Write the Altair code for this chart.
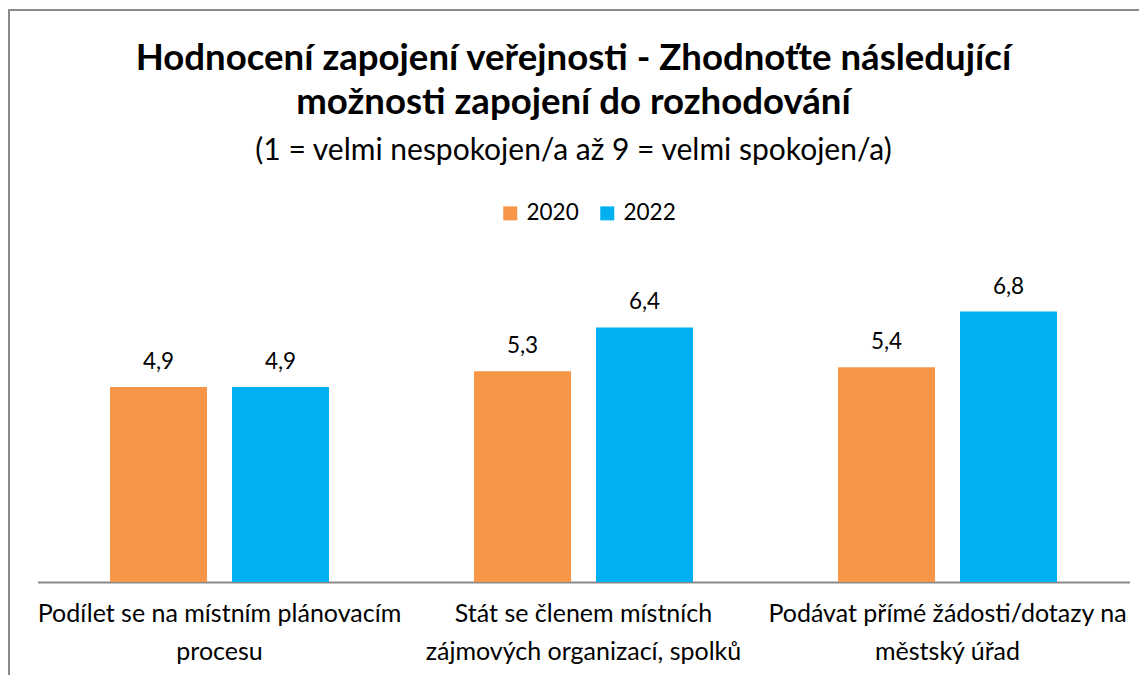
import altair as alt
import pandas as pd

categories = [
    "Podílet se na místním plánovacím|procesu",
    "Stát se členem místních|zájmových organizací, spolků",
    "Podávat přímé žádosti/dotazy na|městský úřad",
]
years = ["2020", "2022"]
values_2020 = [4.9, 5.3, 5.4]
values_2022 = [4.9, 6.4, 6.8]

rows = []
for c, v in zip(categories, values_2020):
    rows.append({"cat": c, "year": "2020", "value": v, "label": f"{v:.1f}".replace(".", ",")})
for c, v in zip(categories, values_2022):
    rows.append({"cat": c, "year": "2022", "value": v, "label": f"{v:.1f}".replace(".", ",")})
df = pd.DataFrame(rows)

FONT = "Lato"

x_enc = alt.X(
    "cat:N",
    sort=categories,
    title=None,
    scale=alt.Scale(paddingInner=0.3984, paddingOuter=0.1992),
    axis=alt.Axis(
        labelExpr="split(datum.label, '|')",
        labelAngle=0,
        labelFont=FONT,
        labelFontSize=25,
        labelLineHeight=38,
        labelPadding=19,
        labelColor="#000000",
        labelLimit=0,
        ticks=False,
        domainColor="#898989",
        domainWidth=2,
        grid=False,
    ),
)
xoff_enc = alt.XOffset("year:N", sort=years, scale=alt.Scale(paddingInner=0.205, paddingOuter=0))
y_enc = alt.Y("value:Q", scale=alt.Scale(domain=[0, 8.8], nice=False), axis=None)

base = alt.Chart(df)

bars = base.mark_bar().encode(
    x=x_enc,
    xOffset=xoff_enc,
    y=y_enc,
    color=alt.Color(
        "year:N",
        sort=years,
        scale=alt.Scale(domain=years, range=["#F79646", "#00B0F0"]),
        legend=alt.Legend(
            title=None,
            orient="none",
            legendX=461.5,
            legendY=-30,
            direction="horizontal",
            symbolType="square",
            symbolSize=196,
            symbolStrokeWidth=0,
            labelFont=FONT,
            labelFontSize=22.5,
            labelColor="#000000",
            labelOffset=5,
            columnPadding=17,
        ),
    ),
)

labels = base.mark_text(font=FONT, fontSize=22.5, color="#000000", baseline="alphabetic", dy=-18).encode(
    x=x_enc,
    xOffset=xoff_enc,
    y=y_enc,
    text="label:N",
)

frame = alt.Chart(pd.DataFrame({"a": [0]})).mark_rect(
    fillOpacity=0, stroke="#898989", strokeWidth=2
).encode(
    x=alt.value(-28.5), x2=alt.value(1300), y=alt.value(-222), y2=alt.value(600)
)

chart = alt.layer(frame, bars, labels).properties(
    width=1092,
    height=350,
    background="white",
    autosize=alt.AutoSizeParams(type="none"),
    padding={"left": 29.5, "top": 224, "right": 9.5, "bottom": 100},
    title=alt.TitleParams(
        text=["Hodnocení zapojení veřejnosti - Zhodnoťte následující", "možnosti zapojení do rozhodování"],
        subtitle="(1 = velmi nespokojen/a až 9 = velmi spokojen/a)",
        font=FONT,
        fontSize=36.6,
        fontWeight="bold",
        lineHeight=44,
        color="#000000",
        subtitleFont=FONT,
        subtitleFontSize=30,
        subtitleColor="#000000",
        subtitlePadding=14.5,
        anchor="middle",
        frame="group",
        dx=-10,
        offset=-157,
    ),
).configure_view(stroke="transparent", strokeWidth=0)

chart.save("out.html", embed_options={"renderer": "svg", "actions": False})
